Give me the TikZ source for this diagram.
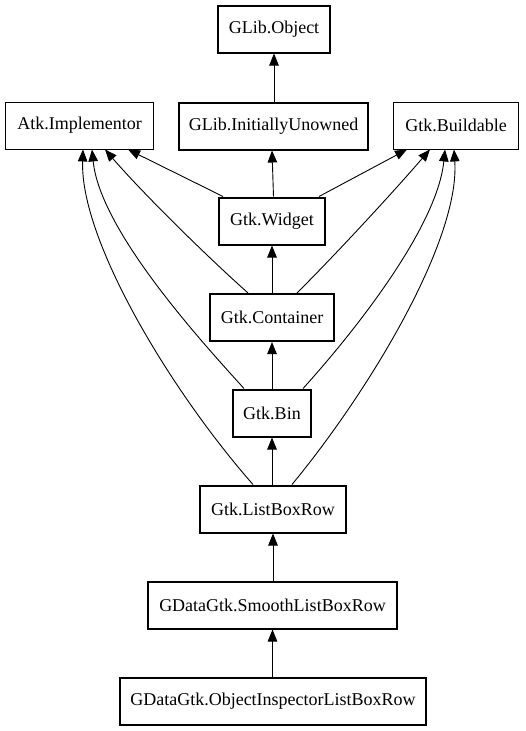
\documentclass[tikz,border=0pt]{standalone}
\usepackage{fontspec}
\setmainfont{Liberation Serif}
\usetikzlibrary{arrows.meta}
\begin{document}
\begin{tikzpicture}[x=1pt,y=-1pt,
  box/.style={draw,rectangle,inner sep=0pt,minimum height=47pt,font=\fontsize{18}{20}\selectfont},
  thickbox/.style={box,line width=2pt},
  thinbox/.style={box,line width=0.9pt},
  edge/.style={line width=0.9pt,-{Triangle[length=12pt,width=9.5pt]}}]
\useasboundingbox (0,0) rectangle (525,731);
\node[thickbox,minimum width=112pt] (obj) at (274,29) {GLib.Object};
\node[thinbox,minimum width=148pt] (atk) at (79.5,125.5) {Atk.Implementor};
\node[thickbox,minimum width=189pt] (iu) at (273.5,126) {GLib.InitiallyUnowned};
\node[thinbox,minimum width=125pt] (build) at (456,125.5) {Gtk.Buildable};
\node[thickbox,minimum width=106pt] (widget) at (272,221) {Gtk.Widget};
\node[thickbox,minimum width=124pt] (cont) at (272,317.5) {Gtk.Container};
\node[thickbox,minimum width=78pt] (bin) at (272,413) {Gtk.Bin};
\node[thickbox,minimum width=146pt] (lbr) at (273,509) {Gtk.ListBoxRow};
\node[thickbox,minimum width=249pt] (smooth) at (272.5,605) {GDataGtk.SmoothListBoxRow};
\node[thickbox,minimum width=306pt] (oi) at (273,701.5) {GDataGtk.ObjectInspectorListBoxRow};
% vertical chain
\draw[edge] (iu.north -| obj.south) -- (obj.south);
\draw[edge] (widget.north -| iu.south) -- (iu.south -| widget.north);
\draw[edge] (cont.north) -- (widget.south);
\draw[edge] (bin.north) -- (cont.south);
\draw[edge] (lbr.north -| bin.south) -- (bin.south);
\draw[edge] (smooth.north -| lbr.south) -- (lbr.south);
\draw[edge] (oi.north -| smooth.south) -- (smooth.south);
% to Atk.Implementor
\draw[edge] ([xshift=-49pt]widget.north) -- ([xshift=48.5pt]atk.south);
\draw[edge] ([xshift=-24pt]cont.north) .. controls (200,250) and (140,190) .. ([xshift=25.5pt]atk.south);
\draw[edge] ([xshift=-28pt]bin.north) .. controls (200,340) and (100,230) .. ([xshift=12.5pt]atk.south);
\draw[edge] ([xshift=-20pt]lbr.north) .. controls (170,390) and (80,240) .. ([xshift=3.5pt]atk.south);
% to Gtk.Buildable
\draw[edge] ([xshift=47pt]widget.north) -- ([xshift=-49pt]build.south);
\draw[edge] ([xshift=25pt]cont.north) .. controls (340,250) and (395,190) .. ([xshift=-26pt]build.south);
\draw[edge] ([xshift=31pt]bin.north) .. controls (347,340) and (437,230) .. ([xshift=-11pt]build.south);
\draw[edge] ([xshift=19pt]lbr.north) .. controls (370,390) and (460,240) .. ([xshift=-2pt]build.south);
\end{tikzpicture}
\end{document}
